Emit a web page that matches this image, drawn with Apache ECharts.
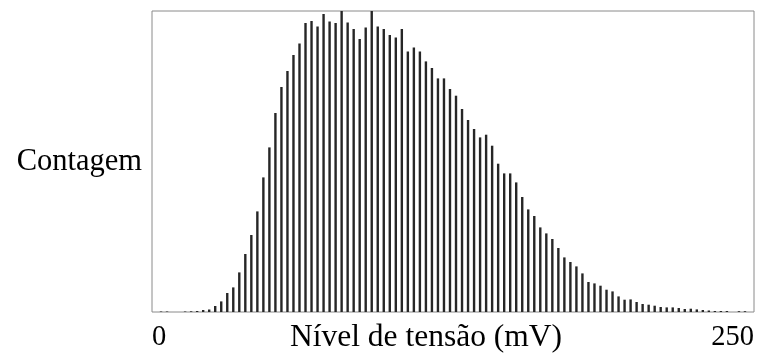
<!DOCTYPE html>
<html>
<head>
<meta charset="utf-8">
<script src="https://cdn.jsdelivr.net/npm/echarts@6/dist/echarts.min.js"></script>
<style>
  html, body { margin: 0; padding: 0; background: #fff; }
  #chart { width: 757px; height: 356px; }
</style>
</head>
<body>
<div id="chart"></div>
<script>
// Histogram counts, 100 bins of 2.5 mV from 0 to 250 mV
const counts = [
  0, 0.5, 0.5, 0, 0, 0.5, 0.7, 1, 2, 2.5,
  6, 10.6, 19, 24.6, 39.6, 58, 77, 100.6, 134.6, 164.6,
  199, 225, 241, 257, 268.6, 289, 291, 285.6, 298, 290.6,
  289, 302, 289.6, 283, 273, 284.6, 301, 285.6, 283, 277,
  274.6, 283, 260.6, 264.6, 260.6, 250.6, 244, 233.6, 233.6, 223,
  216.3, 203, 192, 183, 174.6, 177.3, 166.3, 148.3, 138.6, 138.6,
  129.6, 115, 102.6, 96, 84.6, 78.6, 73, 64, 54.6, 50,
  45.6, 38.6, 30, 28.6, 26.3, 22.3, 20.6, 15.6, 12.3, 12.6,
  10, 8, 7.3, 6.3, 5, 4.6, 4.6, 4, 3, 3.3,
  2.6, 2, 1.5, 1, 1, 1, 0, 0.8, 0.8, 0
];
const binWidth = 2.5;
const xMin = 0;
const xMax = 250;
const yMax = 301;
const xTitle = 'Nível de tensão (mV)';
const yTitle = 'Contagem';

const seriesData = counts.map((c, i) => [xMin + (i + 0.5) * binWidth, c]);

const font = 'Liberation Serif';
const chart = echarts.init(document.getElementById('chart'), null, { renderer: 'canvas' });
chart.setOption({
  animation: false,
  backgroundColor: '#ffffff',
  grid: {
    left: 152, top: 11, right: 3, bottom: 44,
    containLabel: false,
    outerBoundsMode: 'none',
    show: true, borderColor: '#8a8a8a', borderWidth: 1, backgroundColor: 'transparent'
  },
  xAxis: {
    type: 'value',
    min: xMin, max: xMax, interval: xMax - xMin,
    axisLine: { show: false },
    axisTick: { show: false },
    splitLine: { show: false },
    axisLabel: {
      margin: 11,
      color: '#000',
      fontFamily: font,
      fontSize: 28.5,
      alignMinLabel: 'left',
      alignMaxLabel: 'right'
    },
    name: xTitle,
    nameLocation: 'middle',
    nameGap: 10,
    nameMoveOverlap: false,
    nameTextStyle: {
      color: '#000', fontFamily: font, fontSize: 31.5,
      verticalAlign: 'top',
      padding: [0, 54, 0, 0]
    }
  },
  yAxis: {
    type: 'value',
    min: 0, max: yMax,
    axisLine: { show: false },
    axisTick: { show: false },
    splitLine: { show: false },
    axisLabel: { show: false },
    name: yTitle,
    nameLocation: 'middle',
    nameRotate: 0,
    nameGap: 10,
    nameMoveOverlap: false,
    nameTextStyle: {
      color: '#000', fontFamily: font, fontSize: 30.5
    }
  },
  series: [{
    type: 'bar',
    data: seriesData,
    barWidth: 2.4,
    itemStyle: { color: '#262626' },
    clip: true
  }]
});
</script>
</body>
</html>
